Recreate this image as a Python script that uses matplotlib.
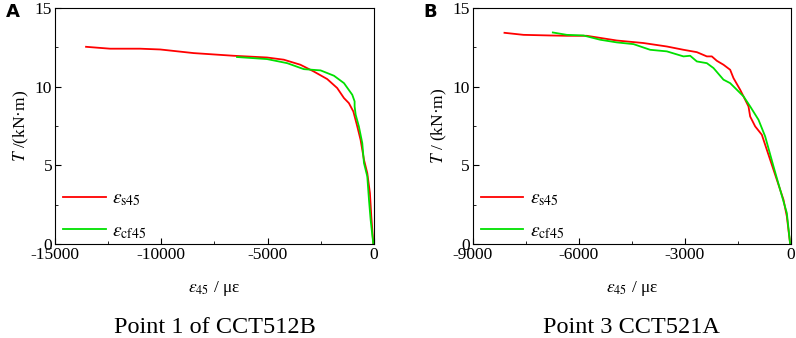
import numpy as np
import matplotlib.pyplot as plt
from matplotlib.ticker import MultipleLocator

plt.rcParams['font.family'] = ['Liberation Serif', 'DejaVu Serif']
plt.rcParams['mathtext.fontset'] = 'stix'

# Point 1 of CCT512B
a_s45_x = [-13540, -12410, -11000, -10050, -8480, -6600, -5030, -4240, -3460, -2830,
           -2200, -1730, -1410, -1180, -970, -785, -630, -470, -314, -190, -125, -30]
a_s45_y = [12.54, 12.42, 12.42, 12.37, 12.14, 11.97, 11.86, 11.72, 11.40, 10.97,
           10.49, 9.92, 9.28, 8.96, 8.43, 7.48, 6.63, 5.36, 4.51, 3.24, 1.76, 0.0]
a_cf45_x = [-6440, -5030, -4080, -3300, -2510, -1880, -1410, -1020, -910, -910, -860,
            -710, -550, -470, -314, -235, -157, -30]
a_cf45_y = [11.89, 11.76, 11.50, 11.12, 11.04, 10.70, 10.23, 9.49, 9.07, 8.75, 8.22,
            7.48, 6.42, 5.15, 4.30, 2.82, 1.55, 0.0]

# Point 3 CCT521A
b_s45_x = [-8104, -7566, -6811, -6340, -5774, -4925, -4170, -3509, -3038, -2660, -2377,
           -2236, -2094, -1906, -1717, -1623, -1434, -1340, -1198, -1151, -1009, -821,
           -585, -396, -208, -113, -19]
b_s45_y = [13.43, 13.30, 13.26, 13.24, 13.24, 12.94, 12.78, 12.56, 12.35, 12.20, 11.93,
           11.93, 11.65, 11.40, 11.08, 10.55, 9.81, 9.39, 8.75, 8.11, 7.48, 6.95,
           5.36, 4.09, 2.82, 1.76, 0.0]
b_cf45_x = [-6736, -6340, -5868, -5396, -4925, -4453, -3981, -3509, -3038, -2849, -2660,
            -2377, -2189, -1906, -1717, -1528, -1340, -1151, -915, -726, -491, -302,
            -113, -19]
b_cf45_y = [13.45, 13.30, 13.26, 12.99, 12.82, 12.71, 12.35, 12.25, 11.93, 11.97, 11.61,
            11.50, 11.19, 10.45, 10.23, 9.81, 9.39, 8.75, 7.90, 6.84, 4.94, 3.45,
            1.97, 0.0]

fig = plt.figure(figsize=(7.96, 3.38), dpi=100)
ax1 = fig.add_axes([0.0691, 0.278, 0.4007, 0.698])
ax2 = fig.add_axes([0.594, 0.278, 0.3995, 0.698])

paneles = [
    (ax1, a_s45_x, a_s45_y, a_cf45_x, a_cf45_y, -15000, 5000, "$T$ /(kN·m)",
     "Point 1 of CCT512B", "A"),
    (ax2, b_s45_x, b_s45_y, b_cf45_x, b_cf45_y, -9000, 3000, "$T$ / (kN·m)",
     "Point 3 CCT521A", "B"),
]

for ax, sx, sy, cx, cy, xmin, paso, ylab, titulo, letra in paneles:
    ax.plot(sx, sy, color='#ff0000', lw=1.3, label=r'$\varepsilon_{\rm s45}$')
    ax.plot(cx, cy, color='#00e000', lw=1.3, label=r'$\varepsilon_{\rm cf45}$')
    ax.set_xlim(xmin, 0)
    ax.set_ylim(0, 15)
    ax.xaxis.set_major_locator(MultipleLocator(paso))
    ax.xaxis.set_minor_locator(MultipleLocator(paso / 2))
    ax.yaxis.set_major_locator(MultipleLocator(5))
    ax.yaxis.set_minor_locator(MultipleLocator(2.5))
    ax.tick_params(which='both', direction='in', labelsize=12.5)
    ax.tick_params(which='major', length=4, pad=2)
    ax.tick_params(which='minor', length=2)
    ax.set_xticklabels([str(int(v)) for v in ax.get_xticks()])
    ax.set_ylabel(ylab, fontsize=12.5, labelpad=3)
    ax.set_xlabel(r'$\varepsilon_{45}$ / με', fontsize=12.5, labelpad=12)
    ax.legend(loc='lower left', frameon=False, fontsize=14, handlelength=2.2,
              handletextpad=0.35, borderaxespad=0.0, labelspacing=0.75,
              bbox_to_anchor=(0.0, -0.02))
    ax.text(0.5, -0.355, titulo, transform=ax.transAxes, ha='center', va='center',
            fontsize=17.5)
    ax.text(-0.155, 0.985, letra, transform=ax.transAxes, ha='left', va='center',
            fontsize=13, fontweight='bold', family='DejaVu Sans')

fig.savefig('out.png', dpi=100)
